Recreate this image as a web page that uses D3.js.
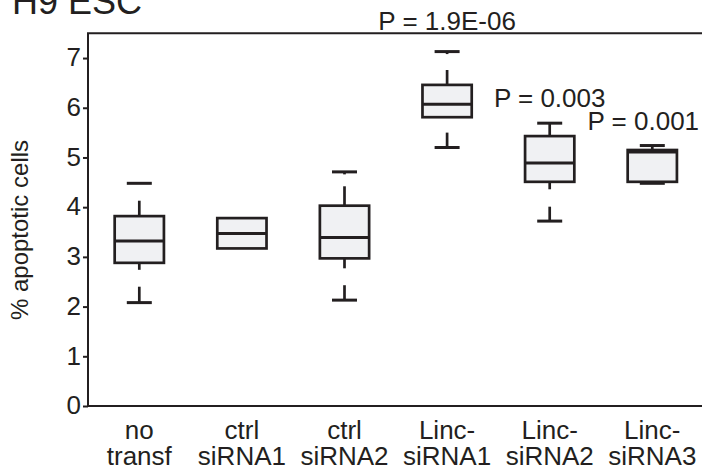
<!DOCTYPE html>
<html><head><meta charset="utf-8">
<script src="https://cdn.jsdelivr.net/npm/d3@7"></script>
<style>
html,body{margin:0;padding:0;background:#fff;}
svg{display:block;}
text{font-family:"Liberation Sans",Arial,sans-serif;fill:#231f20;}
</style></head>
<body>
<svg id="chart" width="702" height="470"></svg>
<script>
// ---- data ----
const categories = [["no","transf"],["ctrl","siRNA1"],["ctrl","siRNA2"],["Linc-","siRNA1"],["Linc-","siRNA2"],["Linc-","siRNA3"]];
const q1        = [2.88, 3.17, 2.97, 5.81, 4.51, 4.51];
const median    = [3.32, 3.47, 3.39, 6.07, 4.89, 5.11];
const q3        = [3.82, 3.78, 4.03, 6.46, 5.43, 5.15];
const whiskerHi = [4.13, null, 4.42, 6.76, 5.43, 5.15];
const capHiStem = [4.48, null, 4.66, 7.08, 5.43, 5.15];
const capHi     = [4.48, null, 4.71, 7.13, 5.69, 5.24];
const whiskerLo = [2.74, null, 2.77, 5.81, 4.36, 4.51];
const capLoStem = [2.40, null, 2.43, 5.50, 4.01, 4.48];
const capLo     = [2.08, null, 2.13, 5.20, 3.72, 4.48];
const yTicks    = [0,1,2,3,4,5,6,7];
const pLabels   = [{group:3, text:"P = 1.9E-06", value:7.56},
                   {group:4, text:"P = 0.003",   value:6.02},
                   {group:5, text:"P = 0.001",   value:5.55}];
const chartTitle = "H9 ESC";
const yLabel = "% apoptotic cells";

(function(){
// ---- layout ----
const svg = d3.select("#chart");
const ink = "#231f20";
const mLeft = 88, mRight = 703.6, mTop = 33.2, mBottom = 406;
const x = d3.scaleBand().domain(d3.range(categories.length)).range([mLeft, mRight]).padding(0);
const y = d3.scaleLinear().domain([0, 7.5]).range([mBottom, mTop]);
const bw = x.bandwidth();
const boxW = bw * 0.48, capW = 25;
const cx = i => x(i) + bw / 2;

// title
svg.append("text").attr("x", 12).attr("y", 14).attr("font-size", 36).text(chartTitle);

// y axis
const yAxis = d3.axisLeft(y).tickValues(yTicks).tickFormat(d3.format("d")).tickSize(5).tickSizeOuter(0);
const gy = svg.append("g").attr("transform", `translate(${mLeft},0)`).call(yAxis);
gy.select(".domain").remove();
gy.selectAll(".tick line").attr("stroke", ink).attr("stroke-width", 2);
gy.selectAll(".tick text").attr("font-size", 26).attr("x", -7).attr("dy", "0.3em")
  .style("font-family", '"Liberation Sans",Arial,sans-serif').attr("fill", ink);

// frame lines: top, left, bottom
svg.append("path").attr("fill", "none").attr("stroke", ink).attr("stroke-width", 2)
  .attr("d", `M702,${y(7.5)}H${mLeft}V${y(0)}H702`);

// y label
svg.append("text").attr("transform", `translate(28,230) rotate(-90)`)
  .attr("text-anchor", "middle").attr("font-size", 24).text(yLabel);

// x labels
const xl = svg.append("g").attr("text-anchor", "middle").attr("font-size", 26);
categories.forEach((c, i) => {
  xl.append("text").attr("x", cx(i)).attr("y", 439).text(c[0]);
  xl.append("text").attr("x", cx(i)).attr("y", 465).text(c[1]);
});

// boxes
const g = svg.append("g").attr("stroke", ink).attr("stroke-width", 2.7).attr("fill", "none");
categories.forEach((c, i) => {
  const X = cx(i);
  if (whiskerHi[i] != null) {
    g.append("line").attr("x1", X).attr("x2", X).attr("y1", y(q3[i])).attr("y2", y(whiskerHi[i]));
    g.append("line").attr("x1", X).attr("x2", X).attr("y1", y(capHi[i])).attr("y2", y(capHiStem[i]));
    g.append("line").attr("x1", X - capW/2).attr("x2", X + capW/2).attr("y1", y(capHi[i])).attr("y2", y(capHi[i])).attr("stroke-width", 3);
    g.append("line").attr("x1", X).attr("x2", X).attr("y1", y(q1[i])).attr("y2", y(whiskerLo[i]));
    g.append("line").attr("x1", X).attr("x2", X).attr("y1", y(capLo[i])).attr("y2", y(capLoStem[i]));
    g.append("line").attr("x1", X - capW/2).attr("x2", X + capW/2).attr("y1", y(capLo[i])).attr("y2", y(capLo[i])).attr("stroke-width", 3);
  }
  g.append("rect").attr("x", X - boxW/2).attr("y", y(q3[i])).attr("width", boxW)
    .attr("height", y(q1[i]) - y(q3[i])).attr("fill", "#f0f1f3");
  g.append("line").attr("x1", X - boxW/2).attr("x2", X + boxW/2)
    .attr("y1", y(median[i])).attr("y2", y(median[i])).attr("stroke-width", 3);
});

// p-value labels
pLabels.forEach((p, k) => {
  const xx = k === 2 ? cx(p.group) - 9 : cx(p.group);
  svg.append("text").attr("x", xx).attr("y", y(p.value)).attr("text-anchor", "middle")
    .attr("font-size", 26).text(p.text);
});
})();
</script>
</body></html>
